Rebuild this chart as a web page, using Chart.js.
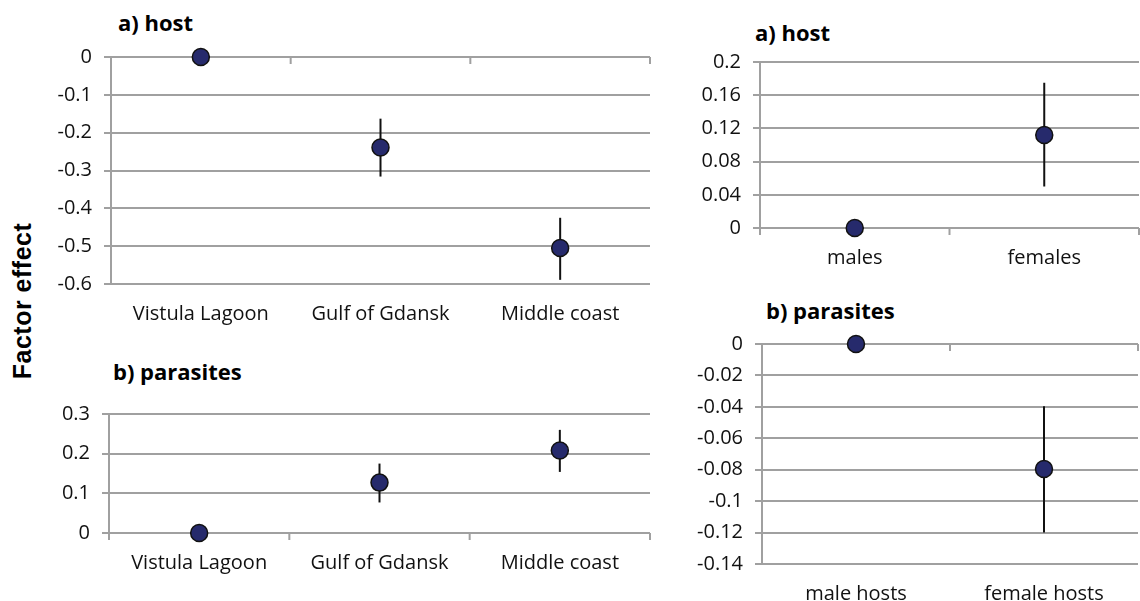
<!DOCTYPE html>
<html>
<head>
<meta charset="utf-8">
<script src="https://cdn.jsdelivr.net/npm/chart.js@4.4.1/dist/chart.umd.min.js"></script>
<style>
  html, body { margin: 0; padding: 0; background: #fff; overflow: hidden; }
  body { width: 1140px; height: 601px; position: relative; font-family: "Open Sans", sans-serif; }
  .panel { position: absolute; }
  .title { position: absolute; font-weight: bold; font-size: 22px; line-height: 1; color: #000; white-space: nowrap; }
  #ylabel {
    position: absolute; left: 22px; top: 301px;
    transform: translate(-50%, -50%) rotate(-90deg);
    font-family: "Liberation Sans", Arial, sans-serif; font-weight: bold; font-size: 25px;
    letter-spacing: 0.5px; white-space: nowrap;
  }
</style>
</head>
<body>
<div id="ylabel">Factor effect</div>
<div class="title" style="left:118px; top:11px;">a) host</div>
<div class="title" style="left:113px; top:360px;">b) parasites</div>
<div class="title" style="left:755px; top:21px;">a) host</div>
<div class="title" style="left:766px; top:299px;">b) parasites</div>

<div class="panel" id="p1"><canvas id="c1"></canvas></div>
<div class="panel" id="p2"><canvas id="c2"></canvas></div>
<div class="panel" id="p3"><canvas id="c3"></canvas></div>
<div class="panel" id="p4"><canvas id="c4"></canvas></div>

<script>
// region panels
const regions = ['Vistula Lagoon', 'Gulf of Gdansk', 'Middle coast'];
const hostRegion = [0, -0.239, -0.505];
const hostRegionLo = [null, -0.316, -0.589];
const hostRegionHi = [null, -0.163, -0.425];
const hostRegionTicks = [0, -0.1, -0.2, -0.3, -0.4, -0.5, -0.6];

const parRegion = [0, 0.127, 0.208];
const parRegionLo = [null, 0.077, 0.154];
const parRegionHi = [null, 0.175, 0.26];
const parRegionTicks = [0, 0.1, 0.2, 0.3];

// sex panels
const sexes = ['males', 'females'];
const hostSex = [0, 0.112];
const hostSexLo = [null, 0.05];
const hostSexHi = [null, 0.175];
const hostSexTicks = [0, 0.04, 0.08, 0.12, 0.16, 0.2];

const hostSexes = ['male hosts', 'female hosts'];
const parSex = [0, -0.0795];
const parSexLo = [null, -0.12];
const parSexHi = [null, -0.0396];
const parSexTicks = [0, -0.02, -0.04, -0.06, -0.08, -0.1, -0.12, -0.14];

const GRID = '#a0a0a0';
const FONT = { family: '"Open Sans", sans-serif', size: 20 };
const Y_W = 72, X_H = 48, PAD_T = 14, TOP_EXTRA = 9;

// error bars + category tick marks hanging from the zero line
const extras = {
  id: 'extras',
  beforeDatasetsDraw(chart, args, opts) {
    const { ctx, scales: { x, y } } = chart;
    const y0 = y.getPixelForValue(0);
    const half = (x.getPixelForValue(1) - x.getPixelForValue(0)) / 2;
    ctx.save();
    ctx.strokeStyle = GRID;
    ctx.lineWidth = 2;
    for (let i = 0; i <= chart.data.labels.length; i++) {
      const px = x.getPixelForValue(0) - half + i * half * 2;
      ctx.beginPath();
      ctx.moveTo(px, y0);
      ctx.lineTo(px, y0 + 7);
      ctx.stroke();
    }
    ctx.strokeStyle = '#111';
    ctx.lineWidth = 2;
    opts.lo.forEach((lo, i) => {
      if (lo === null) return;
      const px = x.getPixelForValue(i);
      ctx.beginPath();
      ctx.moveTo(px, y.getPixelForValue(lo));
      ctx.lineTo(px, y.getPixelForValue(opts.hi[i]));
      ctx.stroke();
    });
    ctx.restore();
  }
};

function makePanel(pid, cid, labels, values, lo, hi, ticks, area) {
  const el = document.getElementById(pid);
  const left = area.left - Y_W;
  const top = area.top - PAD_T - TOP_EXTRA;
  el.style.left = left + 'px';
  el.style.top = top + 'px';
  el.style.width = (area.right - left) + 'px';
  el.style.height = (area.bottom + X_H - top) + 'px';

  new Chart(document.getElementById(cid), {
    type: 'line',
    data: {
      labels,
      datasets: [{
        data: values,
        showLine: false,
        pointRadius: 8.5,
        pointHoverRadius: 8.5,
        pointBackgroundColor: '#262a6c',
        pointBorderColor: '#111',
        pointBorderWidth: 1.5,
        clip: false
      }]
    },
    options: {
      animation: false,
      responsive: true,
      maintainAspectRatio: false,
      layout: { padding: { top: PAD_T, left: 0, right: 0, bottom: 0 } },
      plugins: {
        legend: { display: false },
        tooltip: { enabled: false },
        extras: { lo, hi }
      },
      scales: {
        x: {
          type: 'category',
          offset: true,
          grid: { display: false },
          border: { display: false },
          ticks: { color: '#111', font: FONT, padding: 10, maxRotation: 0, autoSkip: false },
          afterFit(s) { s.height = X_H; }
        },
        y: {
          min: Math.min(...ticks),
          max: Math.max(...ticks),
          afterBuildTicks(s) { s.ticks = ticks.map(v => ({ value: v })); },
          grid: { color: GRID, lineWidth: 2, tickLength: 7 },
          border: { color: GRID, width: 2 },
          ticks: { color: '#111', font: FONT, padding: 12, callback: v => String(v) },
          afterFit(s) { s.width = Y_W; }
        }
      }
    },
    plugins: [extras]
  });
}

makePanel('p1', 'c1', regions, hostRegion, hostRegionLo, hostRegionHi, hostRegionTicks,
  { left: 111, right: 660, top: 56, bottom: 284 });
makePanel('p2', 'c2', regions, parRegion, parRegionLo, parRegionHi, parRegionTicks,
  { left: 109, right: 660, top: 413, bottom: 533 });
makePanel('p3', 'c3', sexes, hostSex, hostSexLo, hostSexHi, hostSexTicks,
  { left: 760, right: 1149, top: 61, bottom: 228 });
makePanel('p4', 'c4', hostSexes, parSex, parSexLo, parSexHi, parSexTicks,
  { left: 762, right: 1148, top: 343, bottom: 564 });
</script>
</body>
</html>
